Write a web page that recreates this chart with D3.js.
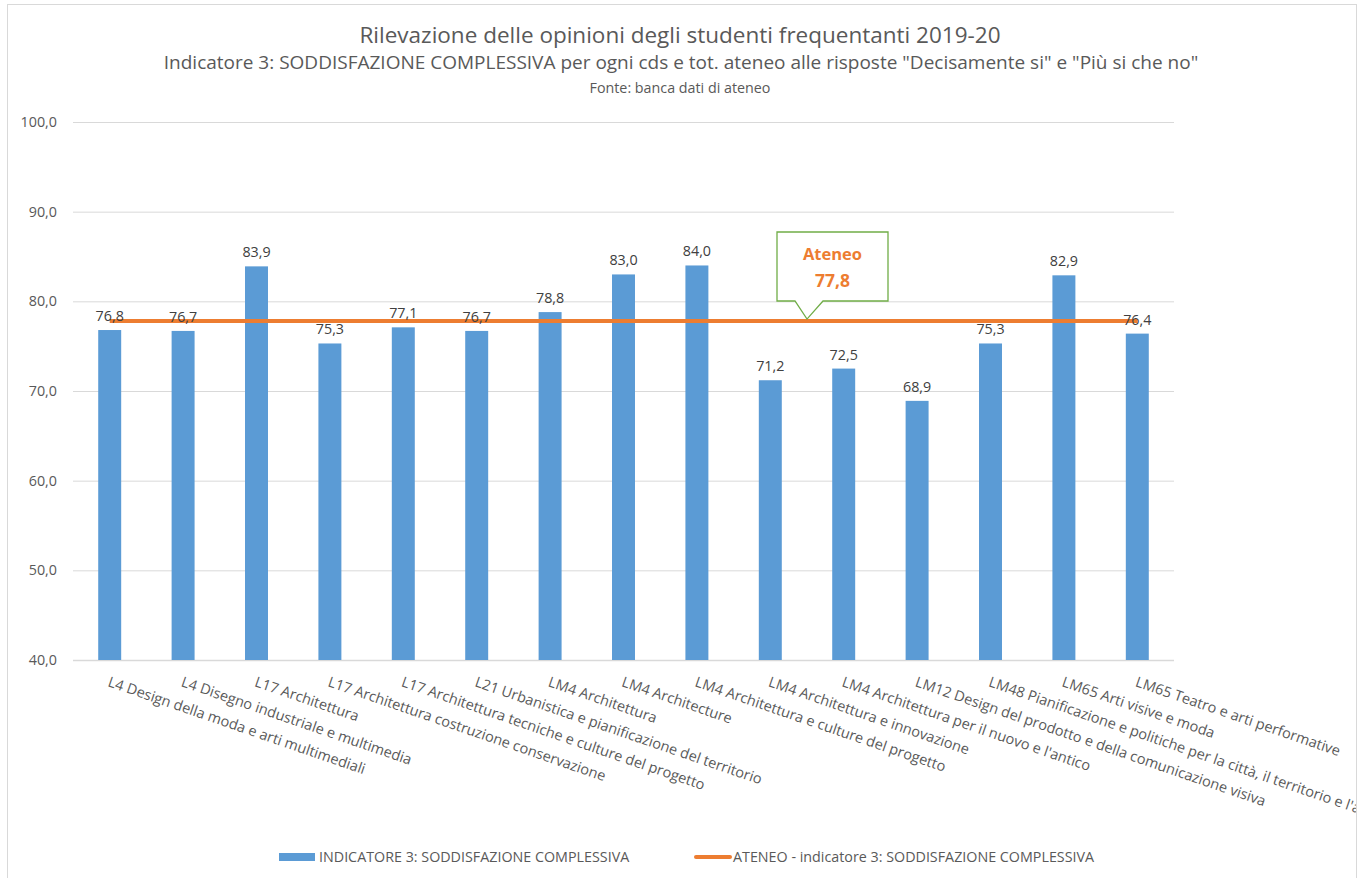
<!DOCTYPE html>
<meta charset="utf-8">
<script src="https://d3js.org/d3.v7.min.js"></script>
<style>
  body { margin: 0; background: #fff; }
  text { font-family: "Open Sans", "Noto Sans", sans-serif; }
</style>
<svg id="chart" width="1366" height="878"></svg>
<script>
// Data
var courses = [
  "L4 Design della moda e arti multimediali",
  "L4 Disegno industriale e multimedia",
  "L17 Architettura",
  "L17 Architettura costruzione conservazione",
  "L17 Architettura tecniche e culture del progetto",
  "L21 Urbanistica e pianificazione del territorio",
  "LM4 Architettura",
  "LM4 Architecture",
  "LM4 Architettura e culture del progetto",
  "LM4 Architettura e innovazione",
  "LM4 Architettura per il nuovo e l'antico",
  "LM12 Design del prodotto e della comunicazione visiva",
  "LM48 Pianificazione e politiche per la città, il territorio e l'ambiente",
  "LM65 Arti visive e moda",
  "LM65 Teatro e arti performative"
];
var indicatore = [76.8, 76.7, 83.9, 75.3, 77.1, 76.7, 78.8, 83.0, 84.0, 71.2, 72.5, 68.9, 75.3, 82.9, 76.4];
var ateneo = 77.8;
var yTicks = [40, 50, 60, 70, 80, 90, 100];

var seriesNames = ["INDICATORE 3: SODDISFAZIONE COMPLESSIVA", "ATENEO - indicatore 3: SODDISFAZIONE COMPLESSIVA"];
var blue = "#5B9BD5", orange = "#ED7D31", green = "#70AD47";

var svg = d3.select("#chart");
var fmt = function(v) { return d3.format(".1f")(v).replace(".", ","); };

// chart frame and clip
svg.append("clipPath").attr("id", "frame")
  .append("rect").attr("x", 7).attr("y", 4).attr("width", 1349).attr("height", 880);
svg.append("rect")
  .attr("x", 7.5).attr("y", 4.5).attr("width", 1349).attr("height", 880)
  .attr("fill", "#fff").attr("stroke", "#D9D9D9");

var g = svg.append("g").attr("clip-path", "url(#frame)");

// titles
g.append("text").attr("x", 680).attr("y", 43).attr("text-anchor", "middle")
  .style("font-size", "22.5px").attr("fill", "#595959")
  .text("Rilevazione delle opinioni degli studenti frequentanti 2019-20");
g.append("text").attr("x", 681).attr("y", 69).attr("text-anchor", "middle")
  .style("font-size", "19px").attr("fill", "#595959")
  .text("Indicatore 3: SODDISFAZIONE COMPLESSIVA per ogni cds e tot. ateneo alle risposte \"Decisamente si\" e \"Più si che no\"");
g.append("text").attr("x", 680).attr("y", 93).attr("text-anchor", "middle")
  .style("font-size", "14.3px").attr("fill", "#595959")
  .text("Fonte: banca dati di ateneo");

// scales
var x = d3.scaleBand().domain(courses).range([73, 1174]).paddingInner(0.687).paddingOuter(0.3435);
var y = d3.scaleLinear().domain([40, 100]).range([660, 122]);

// gridlines
g.append("g").selectAll("line").data(yTicks).enter().append("line")
  .attr("x1", 73).attr("x2", 1174)
  .attr("y1", function(d) { return y(d) + 0.5; })
  .attr("y2", function(d) { return y(d) + 0.5; })
  .attr("stroke", "#D9D9D9").attr("stroke-width", function(d) { return d === 40 ? 1.5 : 1; });

// y axis labels
g.append("g").selectAll("text").data(yTicks).enter().append("text")
  .attr("x", 57).attr("y", function(d) { return y(d); })
  .attr("dy", "0.35em").attr("text-anchor", "end")
  .style("font-size", "14.3px").attr("fill", "#595959")
  .text(fmt);

// bars
g.append("g").selectAll("rect").data(indicatore).enter().append("rect")
  .attr("x", function(d, i) { return x(courses[i]); })
  .attr("width", x.bandwidth())
  .attr("y", function(d) { return y(d); })
  .attr("height", function(d) { return y(40) - y(d); })
  .attr("fill", blue);

// ateneo line across category centres
var cx = function(i) { return x(courses[i]) + x.bandwidth() / 2; };
g.append("line")
  .attr("x1", cx(0)).attr("x2", cx(courses.length - 1))
  .attr("y1", y(ateneo)).attr("y2", y(ateneo))
  .attr("stroke", orange).attr("stroke-width", 4);

// data labels
g.append("g").selectAll("text").data(indicatore).enter().append("text")
  .attr("x", function(d, i) { return cx(i); })
  .attr("y", function(d) { return y(d) - 9; })
  .attr("text-anchor", "middle")
  .style("font-size", "14.3px").attr("fill", "#404040")
  .text(fmt);

// callout for ateneo
var tipX = (cx(9) + cx(10)) / 2, tipY = y(ateneo) - 2;
var bx0 = tipX - 30, bx1 = tipX + 81, by0 = 232, by1 = 301;
g.append("path")
  .attr("d", "M" + bx0 + "," + by0 + "H" + bx1 + "V" + by1 + "H" + (tipX + 16) +
    "L" + tipX + "," + tipY + "L" + (tipX - 12) + "," + by1 + "H" + bx0 + "Z")
  .attr("fill", "#fff").attr("stroke", green).attr("stroke-width", 1.3);
g.append("text").attr("x", (bx0 + bx1) / 2).attr("y", 260).attr("text-anchor", "middle")
  .style("font-size", "16.5px").style("font-weight", "bold").attr("fill", orange).text("Ateneo");
g.append("text").attr("x", (bx0 + bx1) / 2).attr("y", 287).attr("text-anchor", "middle")
  .style("font-size", "17.5px").style("font-weight", "bold").attr("fill", orange).text(fmt(ateneo));

// category labels, rotated
g.append("g").selectAll("text").data(courses).enter().append("text")
  .attr("transform", function(d, i) { return "translate(" + (cx(i) + 1) + ",675) rotate(19)"; })
  .attr("dy", "0.8em")
  .style("font-size", "14.5px").attr("fill", "#595959")
  .text(function(d) { return d; });

// legend
var leg = g.append("g");
leg.append("rect").attr("x", 279).attr("y", 853).attr("width", 36).attr("height", 8).attr("fill", blue);
leg.append("text").attr("x", 319).attr("y", 857).attr("dy", "0.35em")
  .style("font-size", "14.3px").attr("fill", "#595959").text(seriesNames[0]);
leg.append("line").attr("x1", 696).attr("x2", 730).attr("y1", 857).attr("y2", 857)
  .attr("stroke", orange).attr("stroke-width", 4).attr("stroke-linecap", "round");
leg.append("text").attr("x", 733).attr("y", 857).attr("dy", "0.35em")
  .style("font-size", "14.3px").attr("fill", "#595959").text(seriesNames[1]);
</script>
